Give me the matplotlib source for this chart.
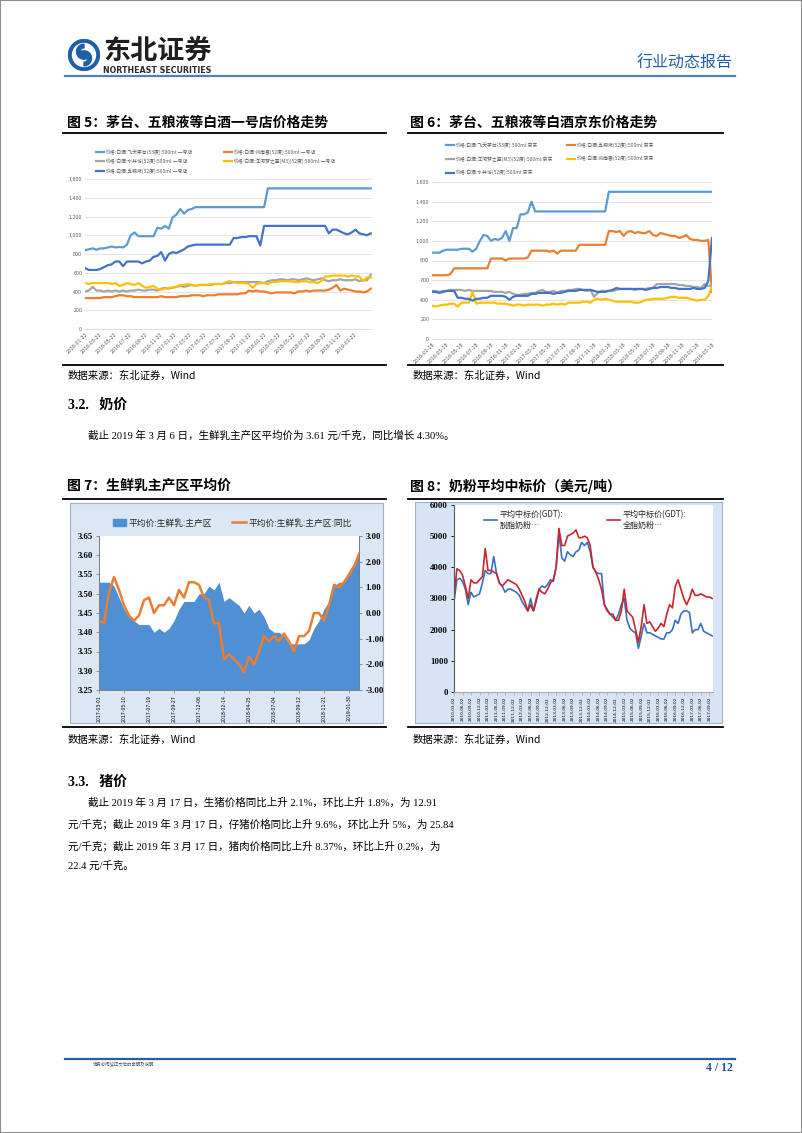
import numpy as np
import pandas as pd
import matplotlib
matplotlib.use('Agg')
import matplotlib.pyplot as plt
from matplotlib.lines import Line2D
from matplotlib.patches import Rectangle, Circle, Patch, Wedge
import matplotlib.ticker as mticker

# ---------------- data ----------------
# Fig 5: 一号店 prices (semi-monthly readings)
maotai5 = [840, 850, 860, 845, 860, 860, 870, 880, 870, 875,
           870, 900, 1000, 1030, 990, 990, 990, 990, 990, 1080,
           1070, 1100, 1070, 1190, 1220, 1280, 1230, 1270, 1280, 1300,
           1300, 1300, 1300, 1300, 1300, 1300, 1300, 1300, 1300, 1300,
           1300, 1300, 1300, 1300, 1300, 1300, 1300, 1300, 1500, 1500,
           1500, 1500, 1500, 1500, 1500, 1500, 1500, 1500, 1500, 1500,
           1500, 1500, 1500, 1500, 1500, 1500, 1500, 1500, 1500, 1500,
           1500, 1500, 1500, 1500, 1500, 1500]
wuliangye5 = [650, 630, 630, 630, 640, 660, 680, 690, 720, 720,
              670, 720, 720, 720, 720, 700, 720, 730, 770, 780,
              820, 730, 800, 820, 810, 830, 850, 880, 890, 900,
              900, 900, 900, 900, 900, 900, 900, 900, 900, 970,
              970, 980, 980, 990, 990, 990, 890, 1100, 1100, 1100,
              1100, 1100, 1100, 1100, 1100, 1100, 1100, 1100, 1100, 1100,
              1100, 1100, 1100, 1100, 1020, 1060, 1060, 1040, 1020, 1010,
              1030, 1060, 1020, 1010, 1000, 1020]
shuijingfang5 = [400, 410, 450, 410, 410, 400, 410, 400, 410, 400,
                 410, 400, 410, 410, 420, 410, 410, 420, 420, 410,
                 430, 440, 430, 440, 450, 460, 450, 460, 470, 460,
                 470, 470, 470, 470, 480, 480, 480, 490, 490, 500,
                 500, 500, 500, 500, 500, 500, 500, 490, 510, 520,
                 520, 530, 530, 520, 530, 530, 520, 530, 540, 530,
                 520, 530, 540, 520, 510, 520, 520, 530, 520, 520,
                 520, 530, 510, 520, 520, 580]
yanghe5 = [490, 480, 490, 490, 490, 490, 490, 480, 490, 460,
           470, 490, 480, 470, 490, 460, 440, 450, 460, 430,
           420, 430, 440, 440, 450, 470, 470, 480, 470, 460,
           470, 470, 470, 480, 480, 480, 480, 500, 510, 500,
           490, 490, 490, 480, 440, 480, 490, 490, 480, 500,
           500, 510, 510, 510, 510, 500, 500, 510, 510, 500,
           500, 490, 510, 560, 560, 570, 570, 570, 570, 560,
           570, 560, 560, 510, 550, 550]
jiannanchun5 = [330, 330, 330, 330, 330, 340, 340, 340, 350, 360,
                360, 350, 350, 340, 340, 340, 340, 340, 340, 340,
                350, 340, 340, 340, 340, 350, 350, 350, 360, 360,
                360, 350, 360, 360, 360, 370, 370, 370, 370, 370,
                370, 380, 380, 410, 400, 410, 400, 400, 390, 380,
                390, 390, 390, 390, 390, 380, 400, 400, 410, 400,
                410, 410, 410, 410, 420, 440, 470, 410, 430, 420,
                410, 400, 400, 390, 400, 430]
labels5 = ['价格:白酒:飞天茅台(53度):500ml:一号店', '价格:白酒:剑南春(52度):500ml:一号店',
           '价格:白酒:水井坊(52度):500ml:一号店', '价格:白酒:洋河梦之蓝(M3)(52度):500ml:一号店',
           '价格:白酒:五粮液(52度):500ml:一号店']

# Fig 6: 京东 prices (semi-monthly readings)
maotai6 = [880, 880, 880, 900, 910, 910, 910, 910, 920, 920,
           920, 890, 920, 1000, 1060, 1050, 1000, 1020, 1010, 1030,
           1100, 1000, 1130, 1130, 1270, 1270, 1290, 1400, 1300, 1300,
           1300, 1300, 1300, 1300, 1300, 1300, 1300, 1300, 1300, 1300,
           1300, 1300, 1300, 1300, 1300, 1300, 1300, 1300, 1500, 1500,
           1500, 1500, 1500, 1500, 1500, 1500, 1500, 1500, 1500, 1500,
           1500, 1500, 1500, 1500, 1500, 1500, 1500, 1500, 1500, 1500,
           1500, 1500, 1500, 1500, 1500, 1500, 1500]
wuliangye6 = [650, 650, 650, 650, 650, 660, 720, 720, 720, 720,
              720, 720, 720, 720, 720, 720, 820, 820, 820, 820,
              800, 820, 820, 820, 820, 820, 830, 900, 900, 900,
              900, 900, 890, 900, 870, 900, 900, 900, 900, 900,
              960, 960, 960, 960, 960, 960, 960, 960, 1100, 1100,
              1090, 1100, 1050, 1090, 1100, 1080, 1090, 1080, 1080, 1100,
              1060, 1050, 1080, 1070, 1060, 1050, 1050, 1030, 1040, 1060,
              1020, 1010, 1010, 1000, 1000, 1010, 480]
yanghe6 = [490, 490, 480, 490, 490, 500, 500, 500, 500, 490,
           500, 490, 490, 490, 490, 490, 490, 480, 480, 480,
           470, 480, 460, 450, 450, 460, 460, 470, 470, 490,
           500, 480, 480, 490, 470, 490, 490, 500, 500, 510,
           510, 500, 490, 500, 430, 470, 490, 490, 490, 490,
           500, 510, 510, 510, 510, 500, 510, 510, 510, 520,
           520, 560, 560, 560, 560, 560, 560, 550, 550, 540,
           540, 530, 530, 520, 560, 540, 550]
jiannanchun6 = [340, 330, 340, 350, 350, 360, 360, 330, 370, 370,
                370, 480, 360, 370, 370, 370, 370, 370, 360, 360,
                360, 350, 340, 350, 350, 340, 350, 350, 350, 350,
                340, 350, 350, 360, 350, 360, 350, 370, 370, 370,
                370, 380, 380, 370, 400, 410, 400, 410, 400, 390,
                380, 380, 380, 380, 380, 370, 370, 380, 400, 400,
                410, 410, 410, 410, 420, 430, 430, 420, 420, 420,
                410, 400, 390, 400, 400, 440, 530]
shuijingfang6 = [480, 480, 470, 480, 490, 490, 490, 420, 420, 410,
                 410, 390, 410, 410, 420, 420, 440, 440, 440, 440,
                 430, 400, 430, 440, 440, 440, 440, 460, 460, 470,
                 470, 470, 470, 460, 470, 470, 480, 490, 490, 490,
                 500, 500, 500, 500, 490, 480, 480, 480, 490, 500,
                 520, 510, 510, 510, 510, 510, 510, 510, 500, 510,
                 520, 520, 530, 530, 530, 520, 520, 510, 510, 510,
                 510, 520, 510, 510, 520, 590, 1030]
labels6 = ['价格:白酒:飞天茅台(53度):500ml:京东', '价格:白酒:五粮液(52度):500ml:京东',
           '价格:白酒:洋河梦之蓝(M3)(52度):500ml:京东', '价格:白酒:剑南春(52度):500ml:京东',
           '价格:白酒:水井坊(52度):500ml:京东']

# Fig 7: 生鲜乳主产区平均价 (biweekly readings)
milk_price = [3.53, 3.53, 3.53, 3.52, 3.49, 3.46, 3.44, 3.43, 3.42, 3.42,
              3.42, 3.40, 3.41, 3.40, 3.41, 3.43, 3.46, 3.48, 3.48, 3.48,
              3.50, 3.50, 3.52, 3.51, 3.53, 3.48, 3.49, 3.48, 3.47, 3.45,
              3.47, 3.45, 3.46, 3.44, 3.41, 3.40, 3.40, 3.39, 3.37, 3.37,
              3.37, 3.37, 3.38, 3.41, 3.43, 3.46, 3.48, 3.52, 3.53, 3.53,
              3.56, 3.58, 3.60]
milk_yoy = [-0.3, -0.4, 0.8, 1.4, 0.9, 0.3, -0.1, -0.3, -0.1, 0.5,
            0.6, 0.0, 0.3, 0.3, 0.6, 0.3, 0.9, 0.6, 1.2, 1.2,
            1.1, 0.6, 0.5, -0.4, -0.4, -1.8, -1.6, -1.8, -2.0, -2.3,
            -1.7, -2.0, -1.5, -0.9, -1.1, -0.9, -1.1, -0.8, -1.1, -1.5,
            -0.9, -0.9, -0.7, 0.0, 0.0, -0.3, 0.3, 1.1, 1.0, 1.2,
            1.5, 1.8, 2.3]
labels7 = ['平均价:生鲜乳:主产区', '平均价:生鲜乳:主产区:同比']

# Fig 8: GDT 奶粉平均中标价 (monthly readings)
smp = [2900, 3600, 3650, 3550, 3300, 2800, 3200, 3050, 3100, 3150,
       3500, 3900, 3800, 3800, 4350, 3800, 3500, 3400, 3200, 3300,
       3300, 3250, 3200, 3100, 2900, 2750, 2600, 3000, 2600, 2900,
       3300, 3400, 3350, 3450, 3600, 3550, 4000, 5100, 4300, 4200,
       4500, 4400, 4350, 4500, 4550, 4800, 4700, 4800, 4500, 4000,
       3850, 3800, 3800, 2800, 2650, 2500, 2400, 2300, 2500, 2800,
       3000, 2300, 2050, 1950, 1900, 1400, 1800, 2200, 1900, 1900,
       1850, 1800, 1750, 1700, 1700, 1900, 1900, 2000, 2300, 2200,
       2500, 2600, 2600, 2550, 1900, 2000, 2000, 2200, 1950, 1900,
       1850, 1800]
wmp = [3000, 3950, 3900, 3750, 3400, 3000, 3600, 3500, 3500, 3600,
       3700, 4600, 3900, 3900, 3850, 3800, 3500, 3400, 3500, 3600,
       3550, 3500, 3450, 3300, 3100, 2900, 2600, 2800, 2600, 3000,
       3300, 3200, 3150, 3300, 3500, 3600, 4000, 5250, 4700, 4700,
       5000, 5050, 5100, 5200, 4950, 4950, 5000, 4950, 4700, 4000,
       3850, 3600, 3300, 2800, 2600, 2500, 2500, 2300, 2300, 2600,
       3300, 2600, 2500, 2400, 2000, 1600, 2100, 2800, 2200, 2250,
       2100, 1950, 2050, 2200, 2100, 2500, 2800, 2700, 3400, 3600,
       3300, 3000, 2800, 3000, 3300, 3100, 3100, 3150, 3100, 3050,
       3050, 3000]
labels8 = ['平均中标价(GDT):\n脱脂奶粉…', '平均中标价(GDT):\n全脂奶粉…']

# ---------------- page setup ----------------
W, H = 802, 1133
fig = plt.figure(figsize=(W / 100, H / 100), dpi=100)
fig.patch.set_facecolor('white')
CJK = ['Noto Sans CJK SC', 'DejaVu Sans']
SERIF = ['Liberation Serif', 'Noto Sans CJK SC']


def fx(x):
    return x / W


def fy(y):
    return 1 - y / H


def txt(x, y, s, size, **kw):
    kw.setdefault('va', 'center')
    kw.setdefault('family', CJK)
    return fig.text(fx(x), fy(y), s, fontsize=size, **kw)


def hline(x0, x1, y, color, lw):
    fig.add_artist(Line2D([fx(x0), fx(x1)], [fy(y), fy(y)], color=color, lw=lw,
                          transform=fig.transFigure))


def axes_px(l, t, r, b, **kw):
    return fig.add_axes([fx(l), fy(b), (r - l) / W, (b - t) / H], **kw)


def box_px(l, t, r, b, fc, ec):
    fig.add_artist(Rectangle((fx(l), fy(b)), (r - l) / W, (b - t) / H, transform=fig.transFigure,
                             fc=fc, ec=ec, lw=0.8, zorder=0))


# page border
fig.add_artist(Rectangle((0, 0), 1, 1, transform=fig.transFigure, fill=False, ec='#8c8c8c', lw=1.5))

# header
BLUE = '#1f5fa8'
axl = axes_px(68, 39, 100, 71)
axl.set_xlim(-16, 16)
axl.set_ylim(-16, 16)
axl.set_aspect('equal')
axl.axis('off')
axl.add_patch(Circle((0, 0), 15.5, color=BLUE))
axl.add_patch(Circle((0, 0), 11.5, color='white'))
axl.add_patch(Wedge((0, 3.3), 7.5, 90, 300, width=3.6, color=BLUE))
axl.add_patch(Wedge((0, -3.3), 7.5, 270, 120, width=3.6, color=BLUE))
txt(103, 51, '东北证券', 19.5, weight='bold', color='#1e1e1e')
txt(103, 70.5, 'NORTHEAST SECURITIES', 5.7, weight='bold', color='#2a2a2a', family=['DejaVu Sans'])
txt(733, 63, '行业动态报告', 11.5, ha='right', color=BLUE)
hline(65, 735, 76, '#4f81bd', 1.6)

# footer
hline(65, 735, 1059, BLUE, 1.6)
txt(93, 1064, '请务必阅读正文后的声明及说明', 3.2, color='#555555')
txt(733, 1068, '4 / 12', 8.5, ha='right', weight='bold', color='#1f4e99', family=SERIF)

# ---------------- titles / text ----------------
txt(67, 123, '图 5：茅台、五粮液等白酒一号店价格走势', 10, weight='bold')
txt(410, 123, '图 6：茅台、五粮液等白酒京东价格走势', 10, weight='bold')
for x0, x1 in [(63, 386), (408, 723)]:
    hline(x0, x1, 133, 'black', 1.3)
    hline(x0, x1, 365, 'black', 1.3)
    hline(x0, x1, 499, 'black', 1.3)
    hline(x0, x1, 727, 'black', 1.3)
txt(68, 376, '数据来源：东北证券，Wind', 7.5)
txt(413, 376, '数据来源：东北证券，Wind', 7.5)
txt(68, 740, '数据来源：东北证券，Wind', 7.5)
txt(413, 740, '数据来源：东北证券，Wind', 7.5)

txt(68, 405, '3.2.   奶价', 10, weight='bold', family=SERIF)
txt(88, 436, '截止 2019 年 3 月 6 日，生鲜乳主产区平均价为 3.61 元/千克，同比增长 4.30%。', 7.6, family=SERIF)
txt(67, 486, '图 7：生鲜乳主产区平均价', 10, weight='bold')
txt(410, 486, '图 8：奶粉平均中标价（美元/吨）', 10, weight='bold')

txt(68, 782, '3.3.   猪价', 10, weight='bold', family=SERIF)
para = [(88, 803, '截止 2019 年 3 月 17 日，生猪价格同比上升 2.1%，环比上升 1.8%，为 12.91'),
        (68, 824, '元/千克；截止 2019 年 3 月 17 日，仔猪价格同比上升 9.6%，环比上升 5%，为 25.84'),
        (68, 846, '元/千克；截止 2019 年 3 月 17 日，猪肉价格同比上升 8.37%，环比上升 0.2%，为'),
        (68, 866, '22.4 元/千克。')]
for x, y, s in para:
    txt(x, y, s, 7.6, family=SERIF)

# ---------------- chart helpers ----------------
C_LB, C_OR, C_GR, C_YE, C_DB = '#5b9bd5', '#ed7d31', '#a5a5a5', '#ffc000', '#4472c4'


def style_price_axes(ax, ticks):
    ax.set_ylim(0, 1600)
    ax.yaxis.set_major_locator(mticker.MultipleLocator(200))
    ax.yaxis.set_major_formatter(mticker.StrMethodFormatter('{x:,.0f}'))
    ax.grid(axis='y', color='#d9d9d9', lw=0.5)
    ax.set_axisbelow(True)
    for s in ['top', 'left', 'right']:
        ax.spines[s].set_visible(False)
    ax.spines['bottom'].set_color('#d9d9d9')
    ax.spines['bottom'].set_linewidth(0.6)
    ax.tick_params(axis='both', length=0, labelsize=3.4, labelcolor='#595959', pad=2)
    ax.set_xticks(ticks)
    ax.set_xticklabels([d.strftime('%Y-%m-%d') for d in ticks], rotation=45, ha='right',
                       va='top', rotation_mode='anchor')


def legend_px(handles, labels, x, y, size, spacing, hl=1.6):
    fig.legend(handles, labels, loc='upper left', bbox_to_anchor=(fx(x), fy(y)),
               bbox_transform=fig.transFigure, frameon=False, borderpad=0, borderaxespad=0,
               prop={'family': CJK, 'size': size}, labelcolor='#595959', handlelength=hl,
               handletextpad=0.4, labelspacing=spacing)


# ---------------- Fig 5 ----------------
ax5 = axes_px(85, 179, 372, 329)
d5 = pd.date_range('2016-01-22', '2019-04-01', periods=len(maotai5))
series5 = [(maotai5, C_LB), (jiannanchun5, C_OR), (shuijingfang5, C_GR), (yanghe5, C_YE), (wuliangye5, C_DB)]
h5 = []
for vals, c in series5:
    h, = ax5.plot(d5[:len(vals)], vals, color=c, lw=1.6)
    h5.append(h)
ax5.set_xlim(d5[0], pd.Timestamp('2019-04-06'))
style_price_axes(ax5, pd.date_range('2016-01-22', '2019-01-22', freq=pd.DateOffset(months=2)))
legend_px([h5[0], h5[2], h5[4]], [labels5[0], labels5[2], labels5[4]], 96, 149, 3.5, 0.8)
legend_px([h5[1], h5[3]], [labels5[1], labels5[3]], 224, 149, 3.5, 0.8)

# ---------------- Fig 6 ----------------
ax6 = axes_px(432, 182, 712, 339)
d6 = pd.date_range('2016-01-18', '2019-03-18', periods=len(maotai6))
series6 = [(maotai6, C_LB), (wuliangye6, C_OR), (yanghe6, C_GR), (jiannanchun6, C_YE), (shuijingfang6, C_DB)]
h6 = []
for vals, c in series6:
    h, = ax6.plot(d6[:len(vals)], vals, color=c, lw=1.6)
    h6.append(h)
ax6.set_xlim(d6[0], d6[-1])
style_price_axes(ax6, pd.date_range('2016-01-18', '2019-03-18', freq=pd.DateOffset(months=2)))
legend_px([h6[0], h6[2], h6[4]], [labels6[0], labels6[2], labels6[4]], 446, 142, 3.5, 1.7)
legend_px([h6[1], h6[3]], [labels6[1], labels6[3]], 567, 142, 3.5, 1.7)

# ---------------- Fig 7 ----------------
box_px(70, 503, 383, 723, '#dce7f5', '#9fb4cc')
ax7 = axes_px(99, 536, 359, 690)
ax7.set_facecolor('white')
x7 = np.arange(len(milk_price))
d7 = pd.date_range('2017-03-01', periods=len(milk_price), freq='14D')
area = ax7.fill_between(x7, milk_price, 3.25, color='#4f8fd4', lw=0)
ax7.set_ylim(3.25, 3.65)
ax7.set_xlim(0, len(milk_price) - 1)
ax7.yaxis.set_major_locator(mticker.MultipleLocator(0.05))
ax7.yaxis.set_major_formatter(mticker.FormatStrFormatter('%.2f'))
ax7b = ax7.twinx()
line7, = ax7b.plot(x7[:len(milk_yoy)], milk_yoy, color='#ed7d31', lw=1.8)
ax7b.set_ylim(-3, 3)
ax7b.yaxis.set_major_locator(mticker.MultipleLocator(1))
ax7b.yaxis.set_major_formatter(mticker.FormatStrFormatter('%.2f'))
for a in (ax7, ax7b):
    a.spines['top'].set_visible(False)
    for s in ['left', 'right', 'bottom']:
        a.spines[s].set_color('#7f7f7f')
        a.spines[s].set_linewidth(0.7)
    a.tick_params(axis='y', length=2.5, width=0.6, color='#7f7f7f', labelsize=6.3, pad=2)
    for t in a.get_yticklabels():
        t.set_fontfamily(SERIF)
        t.set_fontweight('bold')
tick7 = x7[::5]
ax7.set_xticks(tick7)
ax7.set_xticklabels([d7[i].strftime('%Y-%m-%d') for i in tick7], rotation=90, fontsize=3.3)
ax7.tick_params(axis='x', length=2, width=0.5, color='#7f7f7f', pad=1.5)
fig.legend([Patch(color='#4f8fd4'), line7], labels7, loc='center left', ncol=2,
           bbox_to_anchor=(fx(113), fy(523)), bbox_transform=fig.transFigure, frameon=False,
           borderpad=0, borderaxespad=0, prop={'family': CJK, 'size': 6.3},
           handlelength=1.5, handletextpad=0.3, columnspacing=2.3, labelcolor='#262626')

# ---------------- Fig 8 ----------------
box_px(415, 502, 722, 723, '#d6e4f6', '#9fb4cc')
ax8 = axes_px(454, 505, 713, 692)
ax8.set_facecolor('white')
x8 = np.arange(len(smp))
d8 = pd.date_range('2010-03-02', periods=len(smp), freq=pd.DateOffset(months=1))
l8a, = ax8.plot(x8, smp, color='#3b6fc2', lw=1.2)
l8b, = ax8.plot(x8[:len(wmp)], wmp, color='#c8262c', lw=1.2)
ax8.set_ylim(0, 6000)
ax8.set_xlim(0, len(smp) - 0.7)
ax8.yaxis.set_major_locator(mticker.MultipleLocator(1000))
for s in ['top', 'right']:
    ax8.spines[s].set_visible(False)
ax8.spines['left'].set_color('#595959')
ax8.spines['bottom'].set_color('#a6a6a6')
ax8.tick_params(axis='y', length=2.5, width=0.6, labelsize=6.3, pad=2)
for t in ax8.get_yticklabels():
    t.set_fontfamily(SERIF)
    t.set_fontweight('bold')
tick8 = x8[::3]
ax8.set_xticks(tick8)
ax8.set_xticklabels([d8[i].strftime('%Y-%m-%d') for i in tick8], rotation=90, fontsize=3.1)
ax8.tick_params(axis='x', length=2, width=0.5, color='#a6a6a6', pad=1.5)
fig.legend([l8a, l8b], labels8, loc='upper left', ncol=2,
           bbox_to_anchor=(fx(484), fy(510)), bbox_transform=fig.transFigure, frameon=False,
           borderpad=0, borderaxespad=0, prop={'family': CJK, 'size': 5.8},
           handlelength=1.6, handletextpad=0.3, columnspacing=5.5, labelcolor='#262626')

fig.savefig('out.png', dpi=100)
